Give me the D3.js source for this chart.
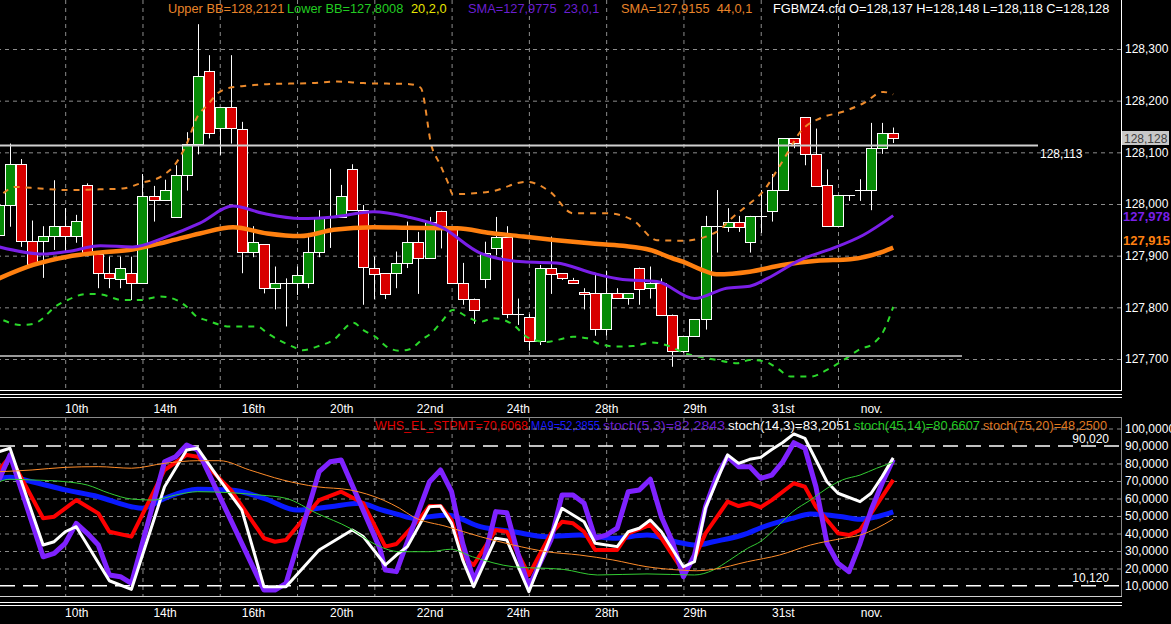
<!DOCTYPE html>
<html>
<head>
<meta charset="utf-8">
<script src="https://cdn.jsdelivr.net/npm/d3@7"></script>
<style>
  body { margin: 0; background: #000; }
  svg { display: block; }
  text { font-family: "Liberation Sans", Arial, sans-serif; font-size: 12px; }
  .legend text { font-size: 12.8px; }
</style>
</head>
<body>
<svg id="chart" width="1171" height="624"></svg>
<script>
// bars run from index -1 (cut by the left edge) to 80 (last bar)
const firstBar = -1;
const opens  = [127.940,127.998,128.077,127.928,127.928,127.938,127.957,127.938,128.037,127.903,127.866,127.856,127.866,127.847,128.016,128.008,127.975,128.057,128.117,128.257,128.146,128.187,128.146,127.907,127.922,127.837,127.847,127.847,127.847,127.907,127.975,127.975,128.067,127.988,127.877,127.866,127.866,127.886,127.927,127.897,127.987,127.955,127.847,127.817,127.856,127.916,127.937,127.787,127.781,127.735,127.877,127.866,127.852,127.830,127.827,127.757,127.827,127.817,127.877,127.837,127.847,127.786,127.716,127.745,127.777,127.957,127.957,127.966,127.927,127.977,127.987,128.027,128.127,128.168,128.097,128.036,127.957,128.017,128.027,128.027,128.108,128.137];
const highs  = [128.010,128.117,128.087,127.968,127.957,128.046,127.992,127.979,128.040,127.903,127.898,127.898,127.898,128.058,128.035,128.047,128.075,128.139,128.348,128.288,128.187,128.288,128.159,127.957,127.922,127.879,127.856,127.879,127.944,127.988,128.068,128.037,128.077,127.998,127.898,127.866,127.908,127.966,127.946,127.975,127.987,127.955,127.886,127.817,127.927,127.975,127.957,127.817,127.787,127.882,127.937,127.866,127.857,127.837,127.866,127.871,127.837,127.827,127.877,127.879,127.856,127.786,127.745,127.777,127.977,128.027,127.992,127.977,127.977,128.027,128.058,128.127,128.127,128.168,128.146,128.067,128.017,128.017,128.048,128.157,128.157,128.148];
const lows   = [127.925,127.956,127.917,127.879,127.857,127.911,127.908,127.925,127.899,127.837,127.837,127.837,127.814,127.847,127.966,128.008,127.975,128.026,128.096,128.127,128.095,128.117,127.866,127.897,127.827,127.796,127.763,127.824,127.837,127.897,127.915,127.975,127.988,127.805,127.816,127.816,127.837,127.876,127.826,127.897,127.914,127.847,127.805,127.768,127.837,127.901,127.779,127.766,127.716,127.727,127.826,127.853,127.847,127.796,127.745,127.745,127.817,127.805,127.805,127.817,127.786,127.685,127.712,127.745,127.757,127.906,127.946,127.946,127.906,127.944,127.966,128.027,128.108,128.075,128.036,127.957,127.957,128.006,128.006,127.988,128.097,128.118];
const closes = [127.998,128.077,127.928,127.883,127.938,127.957,127.938,127.967,127.903,127.866,127.856,127.877,127.847,128.016,128.008,128.027,128.057,128.117,128.248,128.137,128.187,128.146,127.907,127.927,127.837,127.847,127.847,127.863,127.907,127.975,127.975,128.016,127.988,127.877,127.866,127.826,127.886,127.927,127.897,127.966,127.956,127.847,127.817,127.796,127.906,127.937,127.787,127.787,127.735,127.877,127.866,127.856,127.847,127.827,127.757,127.827,127.817,127.827,127.837,127.847,127.786,127.716,127.745,127.777,127.957,127.957,127.966,127.957,127.977,127.977,128.027,128.127,128.117,128.097,128.036,127.957,128.017,128.017,128.027,128.108,128.137,128.128];

// date labels on the time axis (bar index, label)
const dateBars   = [6, 14, 22, 30, 38, 46, 54, 62, 70, 78];
const dateLabels = ["10th", "14th", "16th", "20th", "22nd", "24th", "28th", "29th", "31st", "nov."];
const gridBars   = [5, 12, 19, 26, 33, 40, 47, 54, 61, 68, 75];

const priceTicks = [127.7, 127.8, 127.9, 128.0, 128.1, 128.2, 128.3];
const oscTicks   = [10, 20, 30, 40, 50, 60, 70, 80, 90, 100];
const oscGrid    = [20, 30, 40, 50, 60, 70, 80, 100];
const oscLevels  = [90.02, 10.12];
const hLine      = 128.113;   // white level line
const supportLine = 127.706;  // grey level line

// indicator lines: [bar index, value]
const sma23 = [[-1,127.917],[3,127.903],[5.2,127.908],[8.2,127.919],[11.1,127.917],[14.2,127.937],[17.2,127.963],[20.2,127.996],[22.9,127.982],[26.3,127.972],[29.3,127.975],[32.9,127.985],[36,127.975],[39,127.956],[42.6,127.905],[46.5,127.888],[49.5,127.886],[52.8,127.866],[55.5,127.854],[58.6,127.850],[62,127.817],[64.9,127.837],[67,127.841],[68.6,127.856],[71.6,127.892],[74.5,127.914],[77.3,127.940],[80,127.9775]];
const sma44 = [[-1,127.856],[2.1,127.882],[5.2,127.898],[8.2,127.906],[11.1,127.912],[14.2,127.927],[17.2,127.943],[20.2,127.955],[23.3,127.943],[26.3,127.938],[29.3,127.950],[32.9,127.955],[36,127.954],[40.5,127.953],[43.5,127.944],[46.5,127.937],[49.5,127.930],[52.5,127.924],[55.5,127.919],[58,127.911],[60,127.895],[61,127.888],[62.5,127.874],[64,127.864],[67,127.869],[70,127.882],[73.1,127.890],[76.1,127.893],[79.1,127.908],[80,127.9155]];
const upperBB = [[-0.6,128.021],[0.45,128.033],[2.7,128.030],[5.2,128.027],[7.5,128.028],[10.2,128.030],[11.8,128.040],[13.9,128.056],[14.9,128.075],[16.1,128.121],[16.9,128.166],[17.9,128.192],[18.8,128.214],[19.9,128.225],[21,128.228],[23.3,128.232],[27.4,128.234],[29.6,128.237],[32,128.234],[36.2,128.232],[37.2,128.225],[38.2,128.111],[38.9,128.079],[39.7,128.040],[40.1,128.019],[43.5,128.024],[46.8,128.043],[48.9,128.024],[51,127.982],[54.1,127.982],[56.4,127.969],[58.6,127.930],[61,127.929],[64,127.946],[65.5,127.975],[67,128.001],[68.2,128.024],[69.5,128.066],[70.4,128.098],[71.6,128.140],[73.4,128.166],[75.5,128.179],[77.3,128.195],[79.1,128.217],[80,128.2121]];
const lowerBB = [[-0.6,127.775],[0.9,127.766],[2.1,127.768],[3,127.779],[3.9,127.798],[5.2,127.814],[7,127.826],[8.2,127.825],[10.2,127.814],[11.8,127.814],[13.6,127.821],[15.1,127.814],[16,127.801],[16.9,127.782],[17.8,127.775],[19.9,127.763],[22.4,127.763],[23.3,127.750],[24.5,127.735],[25.6,127.724],[26.5,127.717],[27.8,127.724],[29.3,127.737],[31.1,127.770],[32,127.756],[33.1,127.743],[34.1,127.724],[35.3,127.716],[36.2,127.719],[37.3,127.737],[38.3,127.753],[39.2,127.775],[40.1,127.795],[41.4,127.782],[42.6,127.772],[43.8,127.779],[45.6,127.766],[46.8,127.743],[48.6,127.733],[49.8,127.738],[51,127.743],[52.3,127.740],[53.4,127.729],[55,127.724],[56.4,127.725],[58.2,127.732],[59.8,127.724],[61,127.712],[62.8,127.703],[64,127.698],[65.9,127.692],[67,127.698],[68.4,127.695],[69.5,127.682],[70.7,127.666],[72.5,127.666],[74,127.679],[75.5,127.698],[77,127.719],[78.2,127.730],[79.1,127.753],[80,127.8008]];

const stoch5 = [[-1,70.6],[0,84.9],[3,26.7],[4,28.7],[5,34.4],[6,45.8],[7,40.1],[8,33.4],[9,16.3],[10,15.3],[11,11.5],[14,81.0],[15,83.9],[16,90.6],[17,87.7],[19,61.0],[23,7.7],[24,7.7],[25,11.5],[28,75.3],[29,81.0],[30,82.0],[33.5,31.5],[34,19.1],[35,18.2],[38,69.6],[39,76.3],[40,63.9],[41,34.4],[42,13.4],[43,26.7],[44,52.5],[45,51.9],[46,28.7],[47,9.6],[49,36.3],[50,62.0],[51,62.0],[52,57.3],[53,37.3],[54,39.1],[55,43.0],[56,63.9],[57,64.9],[58,71.0],[59,49.6],[60,35.3],[61,15.3],[62,27.7],[63,55.3],[64,72.5],[65,83.9],[66,78.2],[67,78.2],[68,71.5],[69,73.4],[70,81.0],[71,91.9],[72,88.7],[73,66.7],[74,34.4],[75,23.0],[76,18.2],[77,34.4],[78,53.4],[79,68.7],[80,82.28]];
const stoch14 = [[-1,86.7],[0,88.7],[3,33.4],[4,35.3],[5,41.0],[6,43.9],[9,13.0],[11,8.1],[14,66.7],[16,87.7],[17,88.7],[19,70.6],[21,53.4],[23,9.6],[25,9.6],[28,30.6],[31,42.0],[32,38.2],[34,22.0],[35,27.7],[36,32.5],[38,55.3],[39,55.7],[40,45.8],[41,24.9],[42,9.6],[44,37.3],[45,36.3],[47,6.7],[50,54.4],[52,46.7],[53,34.4],[55,32.5],[56,41.0],[57,43.0],[58,47.7],[59,41.0],[61,21.0],[62,23.9],[63,54.4],[65,84.9],[66,80.1],[67,82.4],[68,83.5],[69,88.0],[70,92.0],[71,96.9],[72,94.4],[73,82.0],[74,69.6],[75,63.0],[77,58.2],[78,63.0],[79,72.5],[80,83.21]];
const whsStpmt = [[-1,76.3],[0,83.9],[3,48.7],[4,49.6],[6,59.1],[8,51.5],[9,41.0],[11,38.2],[14,76.3],[16,84.9],[17,83.9],[20,64.9],[23,37.3],[24,35.3],[25,36.3],[28,59.1],[30,63.9],[32,57.3],[34,32.5],[35,34.0],[37,47.7],[38,55.7],[39,55.7],[40,47.7],[41,26.7],[42,22.0],[44,42.0],[45,41.0],[47,16.3],[49,40.1],[50,46.7],[51,45.8],[52,41.0],[53,30.6],[55,30.6],[56,40.1],[58,44.9],[59,37.3],[61,18.2],[62,25.8],[63,40.1],[65,58.2],[66,55.7],[67,57.3],[68,55.0],[69,59.1],[71,68.7],[72,66.7],[73,55.3],[75,40.1],[76,39.1],[77,42.0],[78,51.5],[80,70.61]];
const ma9 = [[-1,71.5],[0,72.1],[2,69.6],[5,64.9],[8,61.0],[11,55.3],[12,54.4],[14,60.1],[17,65.3],[20,64.9],[23,60.1],[26,53.4],[29,55.3],[31.7,57.3],[33.5,53.8],[35.3,50.6],[36.5,48.7],[39.6,50.6],[42.6,43.9],[45.6,41.0],[48.6,38.2],[51.6,39.1],[54.6,37.3],[57.7,39.1],[60.7,34.7],[62.2,33.4],[63.7,35.3],[66.8,40.1],[67.9,43.0],[70.9,48.7],[72.5,51.1],[74,50.6],[75.4,49.6],[77,48.1],[78.5,49.6],[80,52.39]];
const stoch45 = [[-1,69.6],[0,71.0],[2,70.6],[5,69.6],[7,67.7],[9,63.0],[11,59.7],[13,59.1],[15,62.0],[17,63.9],[20,63.3],[22.6,62.0],[25,60.1],[27.8,51.5],[30.8,43.0],[33.2,33.4],[35.3,29.6],[38,29.6],[39.9,31.0],[41.9,26.7],[45.6,21.0],[50.1,19.5],[53.2,16.3],[57.7,16.9],[62,16.3],[63.7,19.1],[65.2,24.9],[66.8,31.5],[68,35.5],[69.5,43.9],[70.9,52.5],[72.5,59.1],[74,65.8],[75.4,70.6],[77,73.4],[78.5,77.3],[80,80.66]];
const stoch75 = [[-1,75.3],[2,76.3],[5,77.8],[8,78.2],[11,77.3],[14,80.1],[17,81.6],[19,81.6],[21.7,76.3],[24.7,70.6],[27.8,66.7],[30.8,64.9],[33.8,59.1],[35.3,54.4],[36.5,49.6],[39.6,43.9],[42.6,38.2],[45.6,33.4],[48.6,29.6],[51.6,27.7],[54.6,24.9],[57.7,21.0],[60.7,19.1],[62.2,18.7],[63.7,19.5],[66.8,23.9],[69.7,27.7],[72.5,33.4],[75.5,37.3],[77,39.1],[78.5,43.0],[80,48.25]];

const W = 1121;
const svg = d3.select("#chart");
svg.append("rect").attr("width", 1171).attr("height", 624).attr("fill", "#000");

const x  = d3.scaleLinear().domain([0, 80]).range([10, 893.2]);
const yP = d3.scaleLinear().domain([127.7, 128.3]).range([359, 49]);
const yO = d3.scaleLinear().domain([10, 90]).range([586, 446]);

const fmtP = d => d3.format(".3f")(d).replace(".", ",");
const fmtO = d => d3.format(".4f")(d).replace(".", ",");

const defs = svg.append("defs");
defs.append("clipPath").attr("id", "clipTop")
    .append("rect").attr("x", 0).attr("y", 0).attr("width", W).attr("height", 390);
defs.append("clipPath").attr("id", "clipLow")
    .append("rect").attr("x", 0).attr("y", 418).attr("width", W).attr("height", 178);

function styleGrid(g, color, dash) {
    g.select(".domain").remove();
    g.selectAll(".tick line").attr("stroke", color).attr("stroke-dasharray", dash);
}

// ---- top panel grid
svg.append("g").attr("transform", `translate(${W},0)`)
    .call(d3.axisLeft(yP).tickValues(priceTicks).tickSize(W).tickFormat(""))
    .call(g => styleGrid(g, "#8c8c8c", "4,4"));
svg.append("g")
    .call(d3.axisBottom(x).tickValues(gridBars).tickSize(390).tickFormat(""))
    .call(g => styleGrid(g, "#8c8c8c", "4,4"));

// ---- lower panel legend (under the grid, like the original)
const lowLegend = [
    {t: "WHS_EL_STPMT=70,6068", x: 375, c: "#e00000"},
    {t: "MA9=52,3855", x: 531, c: "#1a1aff"},
    {t: "stoch(5,3)=82,2843", x: 603, c: "#6a1fd0"},
    {t: "stoch(14,3)=83,2051", x: 728, c: "#ffffff"},
    {t: "stoch(45,14)=80,6607", x: 854, c: "#22cc22"},
    {t: "stoch(75,20)=48,2500", x: 983, c: "#e07a20"}
];
svg.append("g").attr("class", "legend").selectAll("text").data(lowLegend).enter().append("text")
    .attr("x", d => d.x).attr("y", 430).attr("fill", d => d.c)
    .attr("textLength", (d, k) => (k < lowLegend.length - 1 ? lowLegend[k + 1].x : 1110) - d.x - 3)
    .attr("lengthAdjust", "spacingAndGlyphs").text(d => d.t);

// ---- lower panel grid
svg.append("g").attr("transform", `translate(${W},0)`)
    .call(d3.axisLeft(yO).tickValues(oscGrid).tickSize(W).tickFormat(""))
    .call(g => styleGrid(g, "#8c8c8c", "4,4"));
svg.append("g").attr("transform", "translate(0,418)")
    .call(d3.axisBottom(x).tickValues(gridBars).tickSize(178).tickFormat(""))
    .call(g => styleGrid(g, "#8c8c8c", "4,4"));
svg.append("g").selectAll("line").data(oscLevels).enter().append("line")
    .attr("x1", 0).attr("x2", W).attr("y1", d => yO(d)).attr("y2", d => yO(d))
    .attr("stroke", "#fff").attr("stroke-width", 1.5).attr("stroke-dasharray", "15,8");
svg.append("text").attr("x", 1109).attr("y", yO(oscLevels[0]) - 2.5).attr("text-anchor", "end")
    .attr("fill", "#fff").text("90,020");
svg.append("text").attr("x", 1109).attr("y", yO(oscLevels[1]) - 4).attr("text-anchor", "end")
    .attr("fill", "#fff").text("10,120");

// ---- candles
const bars = opens.map((o, k) => ({i: k + firstBar, o: o, h: highs[k], l: lows[k], c: closes[k]}));
const topG = svg.append("g").attr("clip-path", "url(#clipTop)");
const candle = topG.selectAll("g.candle").data(bars).enter().append("g").attr("class", "candle");
candle.append("line")
    .attr("x1", d => Math.round(x(d.i)) + 0.5).attr("x2", d => Math.round(x(d.i)) + 0.5)
    .attr("y1", d => yP(d.h)).attr("y2", d => yP(d.l))
    .attr("stroke", "#fff").attr("stroke-width", 1);
candle.filter(d => Math.abs(d.o - d.c) >= 0.001).append("rect")
    .attr("x", d => Math.round(x(d.i)) - 4.5)
    .attr("y", d => Math.round(yP(Math.max(d.o, d.c))) + 0.5)
    .attr("width", 10)
    .attr("height", d => Math.max(1, Math.round(Math.abs(yP(d.o) - yP(d.c)))))
    .attr("fill", d => d.c > d.o ? "#068a06" : "#d80000")
    .attr("stroke", "#fff").attr("stroke-width", 1);
candle.filter(d => Math.abs(d.o - d.c) < 0.001).append("line")
    .attr("x1", d => Math.round(x(d.i)) - 5).attr("x2", d => Math.round(x(d.i)) + 6)
    .attr("y1", d => Math.round(yP(d.o)) + 0.5).attr("y2", d => Math.round(yP(d.o)) + 0.5)
    .attr("stroke", "#fff").attr("stroke-width", 1);

// ---- top panel indicator lines
const lineP = d3.line().x(d => x(d[0])).y(d => yP(d[1])).curve(d3.curveMonotoneX);
topG.append("path").datum(lowerBB).attr("d", lineP).attr("fill", "none")
    .attr("stroke", "#2bd82b").attr("stroke-width", 2).attr("stroke-dasharray", "6,6");
topG.append("path").datum(upperBB).attr("d", lineP).attr("fill", "none")
    .attr("stroke", "#ec8a2c").attr("stroke-width", 2).attr("stroke-dasharray", "6,6");
topG.append("path").datum(sma44).attr("d", lineP).attr("fill", "none")
    .attr("stroke", "#ff8010").attr("stroke-width", 4.5);
topG.append("path").datum(sma23).attr("d", lineP).attr("fill", "none")
    .attr("stroke", "#7a1fe8").attr("stroke-width", 3);

topG.append("line").attr("x1", 0).attr("x2", 1038).attr("y1", yP(hLine)).attr("y2", yP(hLine))
    .attr("stroke", "#d0d0d0").attr("stroke-width", 2);
topG.append("line").attr("x1", 0).attr("x2", 962).attr("y1", yP(supportLine)).attr("y2", yP(supportLine))
    .attr("stroke", "#9a9a9a").attr("stroke-width", 2);
svg.append("text").attr("x", 1040).attr("y", yP(hLine) + 12).attr("fill", "#fff").text(fmtP(hLine));

// ---- lower panel lines
const lowG = svg.append("g").attr("clip-path", "url(#clipLow)");
const lineO = d3.line().x(d => x(d[0])).y(d => yO(d[1]));
const lineOs = d3.line().x(d => x(d[0])).y(d => yO(d[1])).curve(d3.curveMonotoneX);
const oscSeries = [
    {data: ma9, c: "#0a1aff", w: 5, gen: lineOs},
    {data: whsStpmt, c: "#ff0000", w: 4, gen: lineO},
    {data: stoch5, c: "#7f22ff", w: 5, gen: lineO},
    {data: stoch14, c: "#ffffff", w: 3, gen: lineO},
    {data: stoch45, c: "#33cc33", w: 1, gen: lineOs},
    {data: stoch75, c: "#ff8c2a", w: 1, gen: lineOs}
];
oscSeries.forEach(s => {
    lowG.append("path").datum(s.data).attr("d", s.gen).attr("fill", "none")
        .attr("stroke", s.c).attr("stroke-width", s.w).attr("stroke-linejoin", "round");
});

// ---- frames
const frame = svg.append("g").attr("fill", "none").attr("shape-rendering", "crispEdges");
frame.append("path").attr("d", `M${W + 0.5},0V390.5H0`).attr("stroke", "#fff");
frame.append("path").attr("d", `M0,394.5H${W + 1}M0,397.5H${W + 1}`).attr("stroke", "#fff");
frame.append("path").attr("d", `M0,417.5H${W + 0.5}V596.5`).attr("stroke", "#8a8a8a");
frame.append("path").attr("d", `M0,596.5H${W + 0.5}`).attr("stroke", "#d0d0d0");
frame.append("path").attr("d", `M0,602.5H${W + 1}M0,605.5H${W + 1}`).attr("stroke", "#fff");

// ---- price axis
const axP = svg.append("g").attr("transform", `translate(${W},0)`)
    .call(d3.axisRight(yP).tickValues(priceTicks).tickSize(0).tickPadding(4).tickFormat(fmtP));
axP.select(".domain").remove();
axP.selectAll("text").attr("fill", "#fff");

// current price / indicator value markers
svg.append("rect").attr("x", 1122).attr("y", 131).attr("width", 47).attr("height", 14).attr("fill", "#c8c8c8");
svg.append("text").attr("x", 1124).attr("y", 142.5).attr("fill", "#404040").text(fmtP(closes[closes.length - 1]));
svg.append("text").attr("x", 1123).attr("y", yP(sma23[sma23.length - 1][1]) + 5)
    .attr("fill", "#7a1fe8").style("font-weight", "bold").style("font-size", "13px").text("127,978");
svg.append("text").attr("x", 1123).attr("y", yP(sma44[sma44.length - 1][1]) - 3)
    .attr("fill", "#ff8010").style("font-weight", "bold").style("font-size", "13px").text("127,915");

// ---- oscillator axis
const axO = svg.append("g").attr("transform", `translate(${W},0)`)
    .call(d3.axisRight(yO).tickValues(oscTicks).tickSize(0).tickPadding(4).tickFormat(fmtO));
axO.select(".domain").remove();
axO.selectAll("text").attr("fill", "#fff");

// ---- date axes
[401, 605].forEach(ty => {
    const ax = svg.append("g").attr("transform", `translate(0,${ty})`)
        .call(d3.axisBottom(x).tickValues(dateBars).tickSize(0).tickPadding(3)
            .tickFormat((d, k) => dateLabels[k]));
    ax.select(".domain").remove();
    ax.selectAll("text").attr("fill", "#fff");
});

// ---- top legend
const topLegend = [
    {t: "Upper BB=128,2121", x: 168, c: "#e8842a"},
    {t: "Lower BB=127,8008", x: 287, c: "#22cc22"},
    {t: "20,2,0", x: 411, c: "#e6e600"},
    {t: "SMA=127,9775  23,0,1", x: 468, c: "#6a1fd0"},
    {t: "SMA=127,9155  44,0,1", x: 621, c: "#e8842a"},
    {t: "FGBMZ4.cfd O=128,137 H=128,148 L=128,118 C=128,128", x: 773, c: "#ffffff"}
];
svg.append("g").attr("class", "legend").selectAll("text").data(topLegend).enter().append("text")
    .attr("x", d => d.x).attr("y", 12.5).attr("fill", d => d.c)
    .attr("xml:space", "preserve").style("white-space", "pre").text(d => d.t);
</script>
</body>
</html>
